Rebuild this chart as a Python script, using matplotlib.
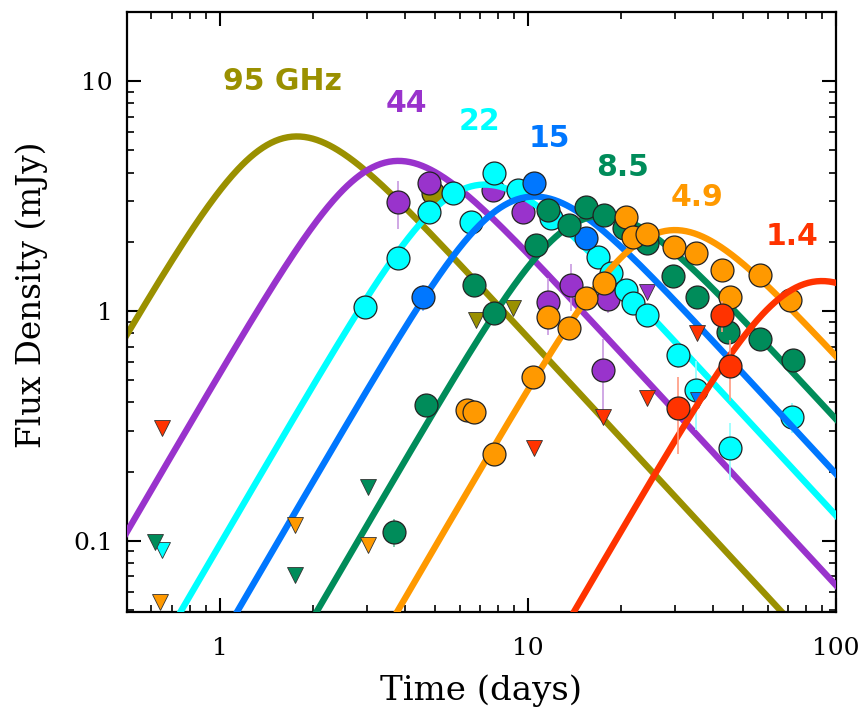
import numpy as np
import matplotlib
matplotlib.use("Agg")
import matplotlib.pyplot as plt

# ---------------- data ----------------
bands = ["95 GHz", "44", "22", "15", "8.5", "4.9", "1.4"]
colors = ["#9a9000", "#9933cc", "#00ffff", "#0077ff", "#008c5a", "#ff9900", "#ff3300"]
errcolors = ["#c8c070", "#c89ae0", "#90ffff", "#80b8ff", "#70c0a0", "#ffc880", "#ff9a80"]

# model light-curve peaks (time [d], flux [mJy])
peak_t = [1.78, 3.8, 7.25, 10.5, 17.5, 30.0, 90.0]
peak_f = [5.75, 4.5, 3.55, 3.15, 2.6, 2.25, 1.35]
rise_index = 2.3
decay_index = -1.45
smooth = 1.0

# detections
t95 = [4.93]
f95 = [3.26]
e95 = [0.45]

t44 = [3.80, 4.78, 7.7, 9.63, 11.6, 13.8, 18.2, 17.5]
f44 = [2.98, 3.60, 3.36, 2.69, 1.09, 1.30, 1.13, 0.554]
e44 = [0.7, 0.0, 0.0, 0.0, 0.3, 0.3, 0.15, 0.2]

t22 = [2.95, 3.80, 4.78, 5.72, 6.54, 7.76, 9.3, 11.9, 16.9, 18.6, 20.8, 22.0,
       24.4, 30.6, 35.0, 45.4, 72.1]
f22 = [1.04, 1.70, 2.69, 3.26, 2.44, 3.98, 3.36, 2.54, 1.72, 1.46, 1.23, 1.08,
       0.96, 0.644, 0.454, 0.254, 0.346]
e22 = [0, 0, 0, 0, 0, 0, 0, 0, 0, 0, 0, 0, 0, 0.08, 0.15, 0.07, 0.05]

t15 = [4.57, 10.5, 15.4]
f15 = [1.15, 3.60, 2.08]
e15 = [0.15, 0.0, 0.0]

t85 = [3.68, 4.68, 6.69, 7.76, 10.6, 11.6, 13.6, 15.4, 17.6, 20.5, 24.4, 29.5,
       35.5, 44.6, 56.8, 72.6]
f85 = [0.109, 0.39, 1.30, 0.98, 1.94, 2.75, 2.37, 2.83, 2.61, 2.30, 1.98, 1.42,
       1.15, 0.81, 0.755, 0.612]
e85 = [0.015, 0, 0, 0, 0, 0, 0, 0, 0, 0, 0, 0, 0, 0, 0, 0]

t49 = [6.35, 6.69, 7.76, 10.4, 11.6, 13.6, 15.4, 17.6, 20.8, 22.0, 24.4, 29.7,
       35.0, 42.7, 45.4, 56.8, 71.0]
f49 = [0.37, 0.364, 0.239, 0.516, 0.94, 0.84, 1.14, 1.32, 2.56, 2.10, 2.16, 1.90,
       1.79, 1.51, 1.15, 1.43, 1.12]
e49 = [0] * 17

t14 = [30.6, 42.7, 45.4]
f14 = [0.378, 0.96, 0.577]
e14 = [0.14, 0.15, 0.17]

# upper limits
ul_t95, ul_f95 = [6.79, 8.94], [0.914, 1.03]
ul_t44, ul_f44 = [24.4], [1.21]
ul_t22, ul_f22 = [0.649], [0.091]
ul_t15, ul_f15 = [35.7], [0.41]
ul_t85, ul_f85 = [0.616, 1.75, 3.03], [0.099, 0.071, 0.172]
ul_t49, ul_f49 = [0.64, 1.75, 3.03], [0.054, 0.117, 0.096]
ul_t14, ul_f14 = [0.649, 10.5, 17.5, 24.4, 35.5], [0.31, 0.254, 0.346, 0.418, 0.80]

det_t = [t95, t44, t22, t15, t85, t49, t14]
det_f = [f95, f44, f22, f15, f85, f49, f14]
det_e = [e95, e44, e22, e15, e85, e49, e14]
ul_t = [ul_t95, ul_t44, ul_t22, ul_t15, ul_t85, ul_t49, ul_t14]
ul_f = [ul_f95, ul_f44, ul_f22, ul_f15, ul_f85, ul_f49, ul_f14]

# label positions (time, flux)
label_t = [1.60, 4.03, 6.94, 11.7, 20.3, 35.5, 72.0]
label_f = [10.0, 8.0, 6.7, 5.65, 4.23, 3.13, 2.10]

# ---------------- plot ----------------
fig = plt.figure(figsize=(8.64, 7.08), dpi=100)
ax = fig.add_axes([0.147, 0.1356, 0.8206, 0.8474])
ax.set_xscale("log")
ax.set_yscale("log")
ax.set_xlim(0.5, 100)
ax.set_ylim(0.049, 20)


def shape(x):
    return (x ** (-smooth * rise_index) + x ** (-smooth * decay_index)) ** (-1.0 / smooth)


xpk = (-decay_index / rise_index) ** (-1.0 / (smooth * (rise_index - decay_index)))
tt = np.logspace(np.log10(0.3), np.log10(150), 600)

z = 2
for i in range(len(bands)):
    model = peak_f[i] * shape(tt / peak_t[i] * xpk) / shape(xpk)
    ax.plot(tt, model, color=colors[i], lw=4.6, solid_capstyle="butt", zorder=z)
    z += 1
    e = np.array(det_e[i], dtype=float)
    t = np.array(det_t[i])
    f = np.array(det_f[i])
    m = e > 0
    if m.any():
        ax.vlines(t[m], f[m] - e[m], f[m] + e[m], color=errcolors[i], lw=1.2, zorder=z)
    z += 1
    ax.plot(ul_t[i], ul_f[i], linestyle="none", marker="v", ms=11,
            mfc=colors[i], mec="#333333", mew=0.6, zorder=z)
    z += 1
    ax.plot(t, f, linestyle="none", marker="o", ms=16.5,
            mfc=colors[i], mec="#222222", mew=0.9, zorder=z)
    z += 1

for i in range(len(bands)):
    ax.text(label_t[i], label_f[i], bands[i], color=colors[i], fontsize=21.5,
            fontweight="bold", family="DejaVu Sans", ha="center", va="center",
            zorder=50)

ax.set_xticks([1, 10, 100])
ax.set_xticklabels(["1", "10", "100"])
ax.set_yticks([0.1, 1, 10])
ax.set_yticklabels(["0.1", "1", "10"])
ax.tick_params(which="both", direction="in", top=True, right=True)
ax.tick_params(which="major", length=10, width=1.5, labelsize=18)
ax.tick_params(axis="x", which="major", pad=18)
ax.tick_params(axis="y", which="major", pad=10)
ax.tick_params(which="minor", length=5, width=1.2)
for lab in ax.get_xticklabels() + ax.get_yticklabels():
    lab.set_family("DejaVu Serif")
for sp in ax.spines.values():
    sp.set_linewidth(1.6)

ax.set_xlabel("Time (days)", fontsize=24.5, family="DejaVu Serif", labelpad=10)
ax.set_ylabel("Flux Density (mJy)", fontsize=23.5, family="DejaVu Serif")
ax.yaxis.set_label_coords(-0.112, 0.528)

fig.savefig("out.png", dpi=100)
